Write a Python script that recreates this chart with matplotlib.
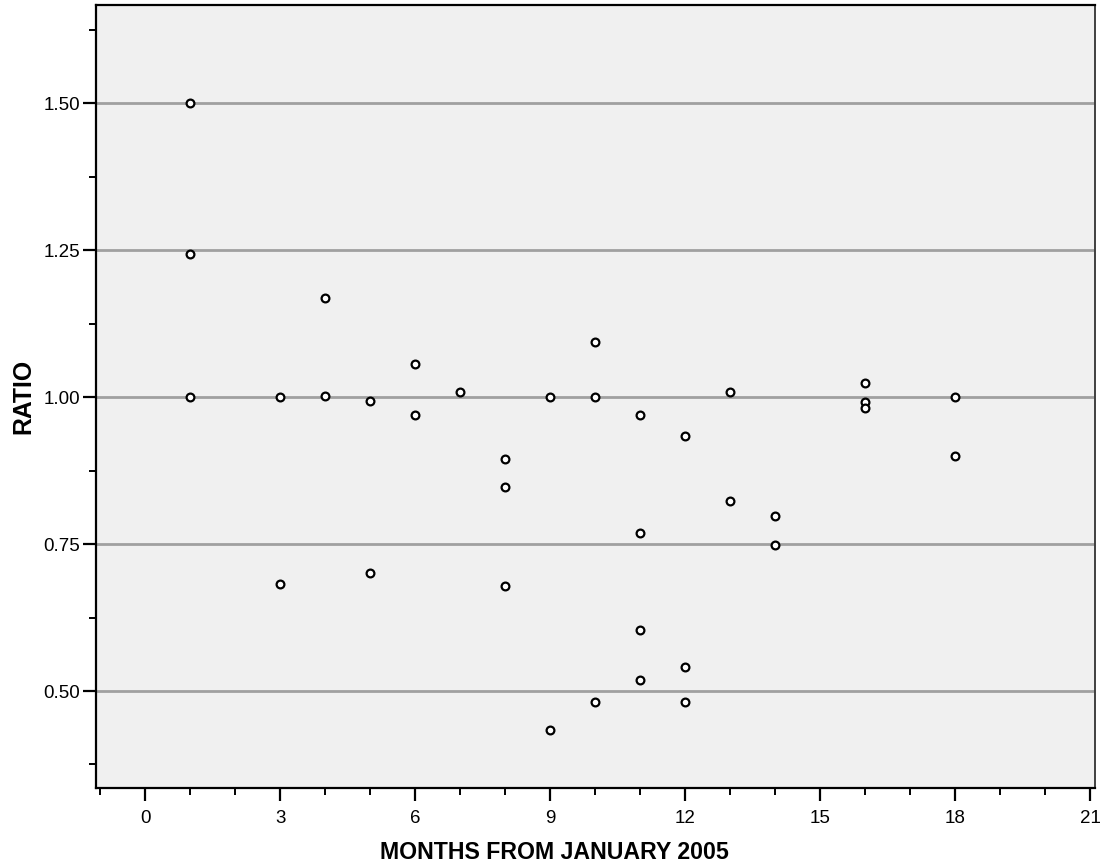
import matplotlib

matplotlib.use("Agg")
import matplotlib.pyplot as plt
from matplotlib.ticker import FixedLocator, MultipleLocator, FormatStrFormatter

plt.rcParams["font.family"] = ["Liberation Sans", "DejaVu Sans"]

# months from January 2005 and the ratio read for each point
months = [1, 1, 1, 3, 3, 4, 4, 5, 5, 6, 6, 7, 8, 8, 8, 9, 9,
          10, 10, 10, 11, 11, 11, 11, 12, 12, 12, 13, 13, 14, 14,
          16, 16, 16, 18, 18]
ratios = [1.500, 1.244, 1.000, 1.000, 0.682, 1.168, 1.002, 0.993, 0.701,
          1.056, 0.970, 1.008, 0.894, 0.847, 0.679, 1.000, 0.433,
          1.094, 1.000, 0.481, 0.969, 0.769, 0.604, 0.519, 0.934, 0.541, 0.481,
          1.008, 0.823, 0.797, 0.748,
          1.024, 0.992, 0.982, 1.000, 0.900]

x_ticks = [0, 3, 6, 9, 12, 15, 18, 21]
y_ticks = [0.50, 0.75, 1.00, 1.25, 1.50]

fig = plt.figure(figsize=(11.04, 8.65), dpi=100)
ax = fig.add_axes([0.087, 0.089, 0.9048, 0.9053])
ax.set_facecolor("#f0f0f0")

for y in y_ticks:
    ax.axhline(y, color="#a0a0a0", linewidth=2.0, zorder=1)

ax.plot(months, ratios, linestyle="none", marker="o", markersize=5.6,
        markerfacecolor="white", markeredgecolor="black", markeredgewidth=1.6,
        zorder=3)

ax.set_xlim(-1.09, 21.11)
ax.set_ylim(0.335, 1.667)

ax.xaxis.set_major_locator(FixedLocator(x_ticks))
ax.xaxis.set_minor_locator(MultipleLocator(1))
ax.yaxis.set_major_locator(FixedLocator(y_ticks))
ax.yaxis.set_minor_locator(MultipleLocator(0.125))
ax.yaxis.set_major_formatter(FormatStrFormatter("%.2f"))

ax.tick_params(axis="both", which="major", length=9.5, width=1.6,
               labelsize=13.5, color="black")
ax.tick_params(axis="both", which="minor", length=5, width=1.4, color="black")
ax.tick_params(axis="x", which="major", pad=6)
ax.tick_params(axis="y", which="major", pad=2)

for side in ("left", "bottom", "top"):
    ax.spines[side].set_linewidth(1.6)
    ax.spines[side].set_color("black")
ax.spines["right"].set_linewidth(1.4)
ax.spines["right"].set_color("#404040")

# x label sits centred on the figure, not on the axes
ax.set_xlabel("MONTHS FROM JANUARY 2005", fontsize=16.7, fontweight="bold")
ax.xaxis.set_label_coords(0.459, -0.068)
ax.set_ylabel("RATIO", fontsize=17.8, fontweight="bold", labelpad=6)

fig.savefig("out.png", dpi=100)
